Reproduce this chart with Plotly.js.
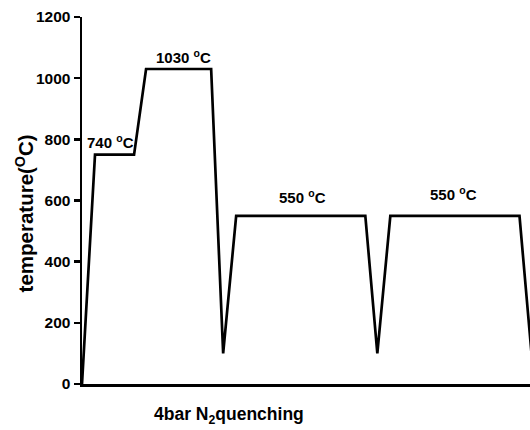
<!DOCTYPE html>
<html>
<head>
<meta charset="utf-8">
<script src="https://cdn.plot.ly/plotly-3.0.1.min.js"></script>
<style>html,body{margin:0;padding:0;background:#fff;}#chart{width:530px;height:430px;}</style>
</head>
<body>
<div id="chart"></div>
<script>
// time (arbitrary units) and temperature (°C) of the heat-treatment profile
var timeSteps = [0, 13, 52, 64, 129, 141, 154, 283, 295, 308, 437, 449];
var temperatures = [0, 750, 750, 1030, 1030, 100, 550, 550, 100, 550, 550, 100];
var yTicks = [0, 200, 400, 600, 800, 1000, 1200];
var stageLabels = ['740 <sup>o</sup>C', '1030 <sup>o</sup>C', '550 <sup>o</sup>C', '550 <sup>o</sup>C'];
var stageLabelX = [28, 101.5, 220.5, 371.5];
var stageLabelY = [793, 1070, 613, 623];

var font = 'Liberation Sans, Arial, sans-serif';
var annotations = stageLabels.map(function (t, i) {
  return {
    text: '<b>' + t + '</b>', x: stageLabelX[i], y: stageLabelY[i],
    xref: 'x', yref: 'y', showarrow: false, xanchor: 'center', yanchor: 'middle',
    font: {family: font, size: 15, color: '#000'}
  };
});
annotations.push({
  text: '<b>temperature(<sup>O</sup>C)</b>', xref: 'paper', yref: 'paper',
  x: -0.127, y: 0.465, textangle: -90, showarrow: false,
  xanchor: 'center', yanchor: 'middle', font: {family: font, size: 20.5, color: '#000'}
});
annotations.push({
  text: '<b>4bar N<sub>2</sub>quenching</b>', xref: 'paper', yref: 'paper',
  x: 0.328, y: -0.085, showarrow: false,
  xanchor: 'center', yanchor: 'middle', font: {family: font, size: 17.5, color: '#000'}
});

Plotly.newPlot('chart', [{
  x: timeSteps, y: temperatures, type: 'scatter', mode: 'lines',
  line: {color: '#000', width: 2.7}, hoverinfo: 'none'
}], {
  width: 530, height: 430,
  margin: {l: 82, r: 0, t: 17, b: 46},
  paper_bgcolor: '#fff', plot_bgcolor: '#fff',
  showlegend: false,
  xaxis: {range: [0, 447.5], showgrid: false, zeroline: false, showline: true,
    linecolor: '#000', linewidth: 2.5, ticks: '', showticklabels: false},
  yaxis: {range: [0, 1200], tickvals: yTicks, ticktext: yTicks.map(String),
    showgrid: false, zeroline: false, showline: true, linecolor: '#000', linewidth: 2.5,
    ticks: 'outside', ticklen: 6, tickwidth: 2.5, tickcolor: '#000',
    tickfont: {family: font, size: 15.5, color: '#000', weight: 'bold'}},
  annotations: annotations
}, {staticPlot: true});
</script>
</body>
</html>
